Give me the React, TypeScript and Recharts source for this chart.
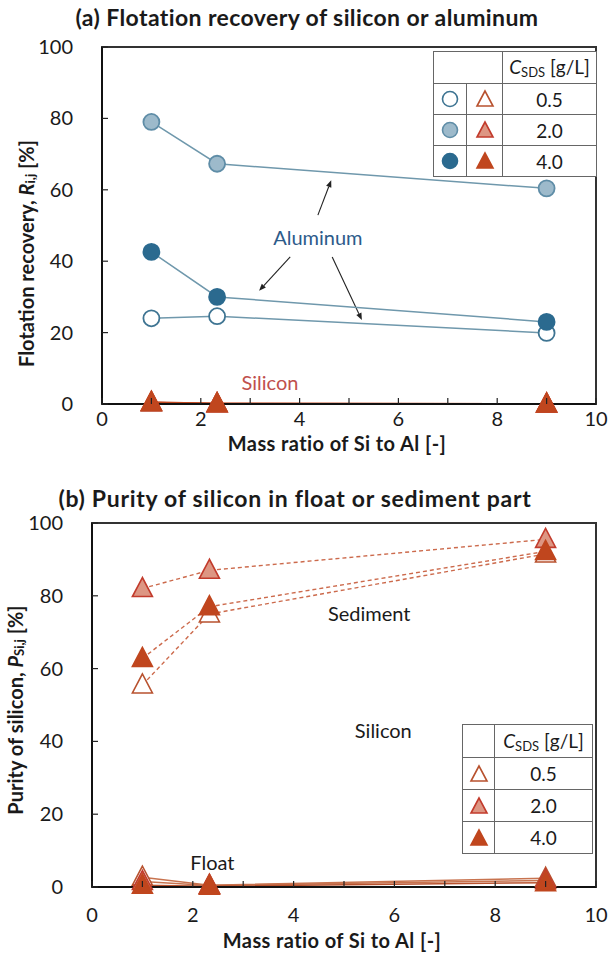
import React from 'react';
import {
  ComposedChart, Line, XAxis, YAxis, ReferenceArea, ReferenceDot, ReferenceLine, Label,
} from 'recharts';

// mass ratio Si:Al of the three mixtures
const massRatio = [1, 2.33, 9];

// (a) flotation recovery [%]
const alRec05 = [24, 24.6, 19.9];
const alRec20 = [79, 67.3, 60.4];
const alRec40 = [42.6, 30, 23];
const siRec05 = [0.3, 0.1, 0];
const siRec20 = [0.4, 0.1, 0];
const siRec40 = [0.5, 0.1, 0];

// (b) purity of silicon [%]
const sedPur05 = [55.5, 75, 91.5];
const sedPur20 = [82, 87, 95.5];
const sedPur40 = [62.8, 77, 92.2];
const fltPur05 = [2.7, 0.5, 2.4];
const fltPur20 = [1.5, 0.4, 1.8];
const fltPur40 = [0.5, 0.2, 1.2];

const xTicks = [0, 1, 2, 3, 4, 5, 6, 7, 8, 9, 10];
const yTicks = [0, 20, 40, 60, 80, 100];
const concLabels = ['0.5', '2.0', '4.0'];

// annotation anchors, in data units
const alArrows = [
  [{ x: 4.37, y: 52.9 }, { x: 4.64, y: 62.7 }],
  [{ x: 3.81, y: 41.2 }, { x: 3.18, y: 31.7 }],
  [{ x: 4.66, y: 41.2 }, { x: 5.26, y: 23.5 }],
];
const notesA = [
  { x: 4.37, y: 46.8, text: 'Aluminum', color: '#2d5b8a' },
  { x: 3.4, y: 6.2, text: 'Silicon', color: '#c0504d' },
];
const notesB = [
  { x: 5.5, y: 75.3, text: 'Sediment' },
  { x: 5.78, y: 43, text: 'Silicon' },
  { x: 2.39, y: 6.8, text: 'Float' },
];

const FONT = 'Lato, "Open Sans", sans-serif';
const C = {
  text: '#1a1a1a',
  alLine: '#6f98ac',
  alStroke: '#3e7492',
  alLight: '#9dbacb',
  alLightStroke: '#5f8da7',
  alDark: '#2b6a8f',
  si: '#c0461e',
  siLight: '#dd9683',
  siLightStroke: '#c23b2c',
  sedLine: '#cc6a4c',
  fltLine: '#c8734f',
};

const dataA = massRatio.map((x, i) => ({
  x, al05: alRec05[i], al20: alRec20[i], al40: alRec40[i],
  si05: siRec05[i], si20: siRec20[i], si40: siRec40[i],
}));
const dataB = massRatio.map((x, i) => ({
  x, sed05: sedPur05[i], sed20: sedPur20[i], sed40: sedPur40[i],
  flt05: fltPur05[i], flt20: fltPur20[i], flt40: fltPur40[i],
}));

function circleDot(fill: string, stroke: string) {
  return (p: any) => (
    <circle key={p.index} cx={p.cx} cy={p.cy} r={8} fill={fill} stroke={stroke} strokeWidth={1.8} />
  );
}

function triPoints(cx: number, cy: number) {
  return `${cx},${cy - 11} ${cx - 10},${cy + 8} ${cx + 10},${cy + 8}`;
}

function triDot(fill: string, stroke: string) {
  return (p: any) => (
    <polygon key={p.index} points={triPoints(p.cx, p.cy)} fill={fill} stroke={stroke} strokeWidth={1.6} />
  );
}

function makeXTick(labelDy: number) {
  return (p: any) => {
    const { x, y, payload } = p;
    const v = payload.value;
    return (
      <g>
        <line x1={x} y1={y} x2={x} y2={y - 6} stroke="#222" strokeWidth={1.2} />
        {v % 2 === 0 && (
          <text x={x} y={y + labelDy} textAnchor="middle" fontSize={20} fontFamily={FONT} fill={C.text}>{v}</text>
        )}
      </g>
    );
  };
}

function YTick(p: any) {
  const { x, y, payload } = p;
  return (
    <g>
      <line x1={x} y1={y} x2={x + 6} y2={y} stroke="#222" strokeWidth={1.2} />
      <text x={x - 29} y={y + 7} textAnchor="end" fontSize={20} fontFamily={FONT} fill={C.text}>{payload.value}</text>
    </g>
  );
}

function arrowShape(p: any) {
  const { x1, y1, x2, y2 } = p;
  const a = Math.atan2(y2 - y1, x2 - x1);
  const L = 7;
  const W = 2.8;
  const bx = x2 - L * Math.cos(a);
  const by = y2 - L * Math.sin(a);
  const pts = `${x2},${y2} ${bx - W * Math.sin(a)},${by + W * Math.cos(a)} ${bx + W * Math.sin(a)},${by - W * Math.cos(a)}`;
  return (
    <g>
      <line x1={x1} y1={y1} x2={bx} y2={by} stroke="#222" strokeWidth={1.1} />
      <polygon points={pts} fill="#222" />
    </g>
  );
}

function noteShape(text: string, color: string, size: number) {
  return (p: any) => (
    <text x={p.cx} y={p.cy} textAnchor="middle" dominantBaseline="central" fontSize={size} fontFamily={FONT} fill={color}>
      {text}
    </text>
  );
}

function xTitle(dy: number) {
  return (p: any) => {
    const vb = p.viewBox;
    return (
      <text x={vb.x + vb.width / 2 - 12} y={vb.y + dy} textAnchor="middle" fontSize={20} fontWeight={700}
        letterSpacing={0.4} fontFamily={FONT} fill={C.text}>
        Mass ratio of Si to Al [-]
      </text>
    );
  };
}

function yTitle(main: string, sym: string, sub: string, cx: number, shift: number) {
  return (p: any) => {
    const vb = p.viewBox;
    const cy = vb.y + vb.height / 2 + shift;
    return (
      <text transform={`rotate(-90 ${cx} ${cy})`} x={cx} y={cy} textAnchor="middle" dominantBaseline="central"
        fontSize={20} fontWeight={700} fontFamily={FONT} fill={C.text}>
        {main}
        <tspan fontStyle="italic">{sym}</tspan>
        <tspan dy={4} fontSize={13}>{sub}</tspan>
        <tspan dy={-4}> [%]</tspan>
      </text>
    );
  };
}

const cellBorder = '1px solid #666';
const tdBase: React.CSSProperties = { border: cellBorder, padding: 0, textAlign: 'center', verticalAlign: 'middle' };

function Csds() {
  return (
    <span><i>C</i><sub style={{ fontSize: 13, verticalAlign: -3 }}>SDS</sub> [g/L]</span>
  );
}

function Icon({ kind, fill, stroke }: { kind: 'c' | 't'; fill: string; stroke: string }) {
  return (
    <svg width={20} height={20} style={{ display: 'block', margin: '0 auto' }}>
      {kind === 'c'
        ? <circle cx={10} cy={10} r={7.5} fill={fill} stroke={stroke} strokeWidth={1.6} />
        : <polygon points="10,2 2,17 18,17" fill={fill} stroke={stroke} strokeWidth={1.6} />}
    </svg>
  );
}

const circleStyles = [
  { fill: '#fff', stroke: C.alStroke },
  { fill: C.alLight, stroke: C.alLightStroke },
  { fill: C.alDark, stroke: C.alDark },
];
const triStyles = [
  { fill: '#fff', stroke: '#b8522f' },
  { fill: C.siLight, stroke: C.siLightStroke },
  { fill: C.si, stroke: C.si },
];

function LegendA() {
  return (
    <table style={{ position: 'absolute', left: 433, top: 51, borderCollapse: 'collapse', background: '#fff', fontSize: 19, fontFamily: FONT, color: C.text }}>
      <tbody>
        <tr style={{ height: 32 }}>
          <td colSpan={2} style={{ ...tdBase, width: 67 }} />
          <td style={{ ...tdBase, width: 93 }}><Csds /></td>
        </tr>
        {concLabels.map((c, i) => (
          <tr key={c} style={{ height: 31 }}>
            <td style={{ ...tdBase, width: 32 }}><Icon kind="c" {...circleStyles[i]} /></td>
            <td style={{ ...tdBase, width: 35 }}><Icon kind="t" {...triStyles[i]} /></td>
            <td style={tdBase}>{c}</td>
          </tr>
        ))}
      </tbody>
    </table>
  );
}

function LegendB() {
  return (
    <table style={{ position: 'absolute', left: 462, top: 724, borderCollapse: 'collapse', background: '#fff', fontSize: 19, fontFamily: FONT, color: C.text }}>
      <tbody>
        <tr style={{ height: 33 }}>
          <td style={{ ...tdBase, width: 31 }} />
          <td style={{ ...tdBase, width: 97 }}><Csds /></td>
        </tr>
        {concLabels.map((c, i) => (
          <tr key={c} style={{ height: 32 }}>
            <td style={tdBase}><Icon kind="t" {...triStyles[i]} /></td>
            <td style={tdBase}>{c}</td>
          </tr>
        ))}
      </tbody>
    </table>
  );
}

const titleStyle: React.CSSProperties = {
  position: 'absolute', width: 600, textAlign: 'center', fontFamily: FONT, fontWeight: 700, fontSize: 23,
  letterSpacing: 0.4, color: C.text, lineHeight: '26px',
};

export default function App() {
  return (
    <div style={{ position: 'absolute', left: 0, top: 0, width: 611, height: 955, background: '#fff', fontFamily: FONT }}>
      <div style={{ ...titleStyle, left: 7, top: 4 }}>(a) Flotation recovery of silicon or aluminum</div>
      <div style={{ ...titleStyle, left: -5, top: 485, letterSpacing: 0.7 }}>(b) Purity of silicon in float or sediment part</div>

      {/* (a) recovery */}
      <div style={{ position: 'absolute', left: 0, top: 0 }}>
        <ComposedChart width={611} height={470} data={dataA} margin={{ top: 47, right: 15, bottom: 0, left: 0 }}>
          <XAxis dataKey="x" type="number" domain={[0, 10]} ticks={xTicks} interval={0}
            tickSize={0} tickMargin={0} tickLine={false} tick={makeXTick(22)} height={66}
            axisLine={{ stroke: '#111', strokeWidth: 2 }}>
            <Label content={xTitle(47)} />
          </XAxis>
          <YAxis type="number" domain={[0, 100]} ticks={yTicks} interval={0} width={102}
            tickSize={0} tickMargin={0} tickLine={false} tick={YTick}
            axisLine={{ stroke: '#111', strokeWidth: 2 }}>
            <Label content={yTitle('Flotation recovery, ', 'R', 'i,j', 26, 28)} />
          </YAxis>
          <ReferenceArea x1={0} x2={10} y1={0} y2={100} fill="none" stroke="#333" strokeWidth={2} />
          {alArrows.map((seg, i) => (
            <ReferenceLine key={i} segment={seg} shape={arrowShape} />
          ))}
          {notesA.map((n) => (
            <ReferenceDot key={n.text} x={n.x} y={n.y} r={0} shape={noteShape(n.text, n.color, 20)} />
          ))}
          <Line dataKey="al05" stroke={C.alLine} strokeWidth={1.5} dot={circleDot('#fff', C.alStroke)} isAnimationActive={false} />
          <Line dataKey="al20" stroke={C.alLine} strokeWidth={1.5} dot={circleDot(C.alLight, C.alLightStroke)} isAnimationActive={false} />
          <Line dataKey="al40" stroke={C.alLine} strokeWidth={1.5} dot={circleDot(C.alDark, C.alDark)} isAnimationActive={false} />
          <Line dataKey="si05" stroke={C.si} strokeWidth={1.8} dot={triDot('#fff', '#b8522f')} isAnimationActive={false} />
          <Line dataKey="si20" stroke={C.si} strokeWidth={1.8} dot={triDot(C.siLight, C.siLightStroke)} isAnimationActive={false} />
          <Line dataKey="si40" stroke={C.si} strokeWidth={1.8} dot={triDot(C.si, C.si)} isAnimationActive={false} />
        </ComposedChart>
      </div>
      <LegendA />

      {/* (b) purity */}
      <div style={{ position: 'absolute', left: 0, top: 475 }}>
        <ComposedChart width={611} height={480} data={dataB} margin={{ top: 48, right: 15, bottom: 0, left: 0 }}>
          <XAxis dataKey="x" type="number" domain={[0, 10]} ticks={xTicks} interval={0}
            tickSize={0} tickMargin={0} tickLine={false} tick={makeXTick(35)} height={68}
            axisLine={{ stroke: '#111', strokeWidth: 2 }}>
            <Label content={xTitle(61)} />
          </XAxis>
          <YAxis type="number" domain={[0, 100]} ticks={yTicks} interval={0} width={92}
            tickSize={0} tickMargin={0} tickLine={false} tick={YTick}
            axisLine={{ stroke: '#111', strokeWidth: 2 }}>
            <Label content={yTitle('Purity of silicon, ', 'P', 'Si,j', 15, 5)} />
          </YAxis>
          <ReferenceArea x1={0} x2={10} y1={0} y2={100} fill="none" stroke="#333" strokeWidth={2} />
          {notesB.map((n) => (
            <ReferenceDot key={n.text} x={n.x} y={n.y} r={0} shape={noteShape(n.text, C.text, 20)} />
          ))}
          <Line dataKey="flt05" stroke={C.fltLine} strokeWidth={1.5} dot={triDot('#fff', '#b8522f')} isAnimationActive={false} />
          <Line dataKey="flt20" stroke={C.fltLine} strokeWidth={1.5} dot={triDot(C.siLight, C.siLightStroke)} isAnimationActive={false} />
          <Line dataKey="flt40" stroke="#b9532f" strokeWidth={1.5} dot={triDot(C.si, C.si)} isAnimationActive={false} />
          <Line dataKey="sed05" stroke={C.sedLine} strokeWidth={1.4} strokeDasharray="4 3" dot={triDot('#fff', '#b8522f')} isAnimationActive={false} />
          <Line dataKey="sed20" stroke={C.sedLine} strokeWidth={1.4} strokeDasharray="4 3" dot={triDot(C.siLight, C.siLightStroke)} isAnimationActive={false} />
          <Line dataKey="sed40" stroke={C.sedLine} strokeWidth={1.4} strokeDasharray="4 3" dot={triDot(C.si, C.si)} isAnimationActive={false} />
        </ComposedChart>
      </div>
      <LegendB />
    </div>
  );
}
